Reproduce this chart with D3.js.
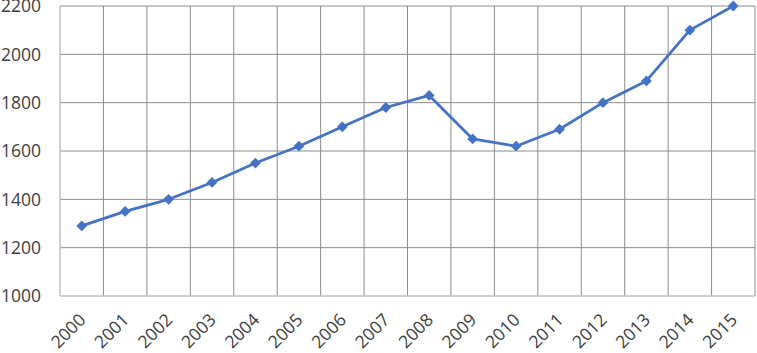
<!DOCTYPE html>
<html>
<head>
<meta charset="utf-8">
<script src="https://cdn.jsdelivr.net/npm/d3@7.9.0/dist/d3.min.js"></script>
<style>
  body { margin: 0; background: #fff; }
  svg text { font-family: "Open Sans", sans-serif; fill: #404040; }
</style>
</head>
<body>
<div id="chart"></div>
<script>
const years = ['2000','2001','2002','2003','2004','2005','2006','2007','2008','2009','2010','2011','2012','2013','2014','2015'];
const values = [1290, 1350, 1400, 1470, 1550, 1620, 1700, 1780, 1830, 1650, 1620, 1690, 1800, 1890, 2100, 2200];
const yTicks = [1000, 1200, 1400, 1600, 1800, 2000, 2200];

const width = 757;
const height = 353;
const margin = { top: 6, right: 2, bottom: 57, left: 60 };

const svg = d3.select('#chart')
  .append('svg')
  .attr('width', width)
  .attr('height', height);

const xScale = d3.scaleBand()
  .domain(years)
  .range([margin.left, width - margin.right]);

const yScale = d3.scaleLinear()
  .domain([1000, 2200])
  .range([height - margin.bottom, margin.top]);

const cx = (d) => xScale(d) + xScale.bandwidth() / 2;

// grid
svg.append('g')
  .selectAll('line')
  .data(yTicks.slice(1))
  .join('line')
  .attr('x1', margin.left)
  .attr('x2', width - margin.right)
  .attr('y1', (d) => yScale(d))
  .attr('y2', (d) => yScale(d))
  .attr('stroke', '#8c8c8c')
  .attr('stroke-width', 1);

svg.append('g')
  .selectAll('line')
  .data(years.slice(1).concat(['end']))
  .join('line')
  .attr('x1', (d) => d === 'end' ? width - margin.right : xScale(d))
  .attr('x2', (d) => d === 'end' ? width - margin.right : xScale(d))
  .attr('y1', margin.top)
  .attr('y2', height - margin.bottom)
  .attr('stroke', '#8c8c8c')
  .attr('stroke-width', 1);

// axis lines
svg.append('line')
  .attr('x1', margin.left).attr('x2', margin.left)
  .attr('y1', margin.top).attr('y2', height - margin.bottom)
  .attr('stroke', '#bfbfbf').attr('stroke-width', 1.5);
svg.append('line')
  .attr('x1', margin.left).attr('x2', width - margin.right)
  .attr('y1', height - margin.bottom).attr('y2', height - margin.bottom)
  .attr('stroke', '#bfbfbf').attr('stroke-width', 1.5);

// y labels
svg.append('g')
  .selectAll('text')
  .data(yTicks)
  .join('text')
  .attr('x', 41)
  .attr('y', (d) => yScale(d))
  .attr('dy', '0.36em')
  .attr('text-anchor', 'end')
  .style('font-size', '17.5px')
  .text((d) => d);

// x labels
svg.append('g')
  .selectAll('text')
  .data(years)
  .join('text')
  .attr('transform', (d) => `translate(${cx(d) + 5},${height - margin.bottom + 25}) rotate(-45)`)
  .attr('text-anchor', 'end')
  .style('font-size', '17.5px')
  .text((d) => d);

// line
const line = d3.line()
  .x((d, i) => cx(years[i]))
  .y((d) => yScale(d));

svg.append('path')
  .datum(values)
  .attr('d', line)
  .attr('fill', 'none')
  .attr('stroke', '#4472c4')
  .attr('stroke-width', 2.75)
  .attr('stroke-linejoin', 'round');

// markers
svg.append('g')
  .selectAll('path')
  .data(values)
  .join('path')
  .attr('d', d3.symbol(d3.symbolSquare, 58))
  .attr('transform', (d, i) => `translate(${cx(years[i])},${yScale(d)}) rotate(45)`)
  .attr('fill', '#4472c4');
</script>
</body>
</html>
